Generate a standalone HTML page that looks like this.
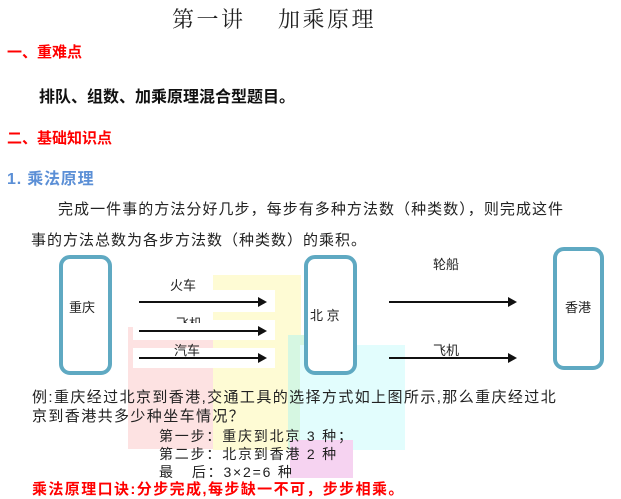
<!DOCTYPE html>
<html><head><meta charset="utf-8"><style>
body{margin:0;width:621px;height:499px;background:#fff;position:relative;overflow:hidden;font-family:"Liberation Sans","Noto Sans CJK SC",sans-serif;color:#222}
.t{position:absolute;white-space:nowrap;line-height:1}
.b{position:absolute}
.box{position:absolute;border:4px solid #5fa9c2;border-radius:11px;box-sizing:border-box;background:#fff}
.ar{position:absolute;height:2px;background:#111}
.ar:after{content:"";position:absolute;right:-2px;top:-4px;border-left:9px solid #111;border-top:5px solid transparent;border-bottom:5px solid transparent}
</style></head><body>
<div class="b" style="left:128px;top:327px;width:87px;height:122px;background:#fde2e2"></div>
<div class="b" style="left:213px;top:275px;width:88px;height:175px;background:#fefbd4"></div>
<div class="b" style="left:288px;top:335px;width:20px;height:115px;background:#d6f7e2"></div>
<div class="b" style="left:300px;top:345px;width:105px;height:105px;background:#e2fdfd"></div>
<div class="b" style="left:290px;top:440px;width:63px;height:38px;background:#f6d3f1"></div>
<div class="b" style="left:133px;top:290px;width:142px;height:22px;background:#fff"></div>
<div class="b" style="left:133px;top:320px;width:142px;height:20px;background:#fff"></div>
<div class="b" style="left:133px;top:348px;width:142px;height:20px;background:#fff"></div>

<div class="t" style="left:172px;top:9px;font-size:22px;font-family:'Liberation Serif','Noto Serif CJK SC',serif;letter-spacing:2.5px">第一讲　&nbsp;加乘原理</div>
<div class="t" style="left:7px;top:45px;font-size:15px;font-weight:bold;color:#f00">一、重难点</div>
<div class="t" style="left:39px;top:90px;font-size:16px;font-weight:bold;color:#111">排队、组数、加乘原理混合型题目。</div>
<div class="t" style="left:7px;top:131px;font-size:15px;font-weight:bold;color:#f00">二、基础知识点</div>
<div class="t" style="left:7px;top:172px;font-size:16px;font-weight:bold;color:#5b8fd6;letter-spacing:0.8px">1. 乘法原理</div>
<div class="t" style="left:58px;top:202px;font-size:15px;letter-spacing:1.05px">完成一件事的方法分好几步，每步有多种方法数（种类数），则完成这件</div>
<div class="t" style="left:31px;top:233px;font-size:15px;letter-spacing:1.0px">事的方法总数为各步方法数（种类数）的乘积。</div>

<div class="box" style="left:59px;top:255px;width:53px;height:120px"></div>
<div class="box" style="left:304px;top:255px;width:53px;height:120px"></div>
<div class="box" style="left:553px;top:247px;width:51px;height:123px"></div>
<div class="t" style="left:69px;top:301px;font-size:13px">重庆</div>
<div class="t" style="left:310px;top:309px;font-size:13px">北&nbsp;京</div>
<div class="t" style="left:565px;top:301px;font-size:13px">香港</div>

<div class="ar" style="left:139px;top:301px;width:126px"></div>
<div class="ar" style="left:139px;top:330px;width:126px"></div>
<div class="ar" style="left:139px;top:357px;width:126px"></div>
<div class="ar" style="left:389px;top:301px;width:126px"></div>
<div class="ar" style="left:389px;top:357px;width:126px"></div>
<div class="t" style="left:170px;top:279px;font-size:13px">火车</div>
<div style="position:absolute;left:176px;top:317px;height:6px;overflow:hidden"><div class="t" style="position:static;font-size:13px">飞机</div></div>
<div class="t" style="left:174px;top:344px;font-size:13px">汽车</div>
<div class="t" style="left:433px;top:258px;font-size:13px">轮船</div>
<div class="t" style="left:433px;top:344px;font-size:13px">飞机</div>

<div class="t" style="left:32px;top:390px;font-size:15px;letter-spacing:1.4px">例:重庆经过北京到香港,交通工具的选择方式如上图所示,那么重庆经过北</div>
<div class="t" style="left:32px;top:409px;font-size:15px;letter-spacing:1.4px">京到香港共多少种坐车情况？</div>
<div class="t" style="left:159px;top:429px;font-size:14px;letter-spacing:1.8px">第一步：重庆到北京 3 种；</div>
<div class="t" style="left:159px;top:447px;font-size:14px;letter-spacing:1.8px">第二步：北京到香港 2 种</div>
<div class="t" style="left:159px;top:465px;font-size:14px;letter-spacing:1.8px">最&nbsp;&nbsp;&nbsp;后：3×2=6 种</div>
<div class="t" style="left:32px;top:482px;font-size:15px;font-weight:bold;color:#f00;letter-spacing:1.4px">乘法原理口诀:分步完成,每步缺一不可，步步相乘。</div>
</body></html>
